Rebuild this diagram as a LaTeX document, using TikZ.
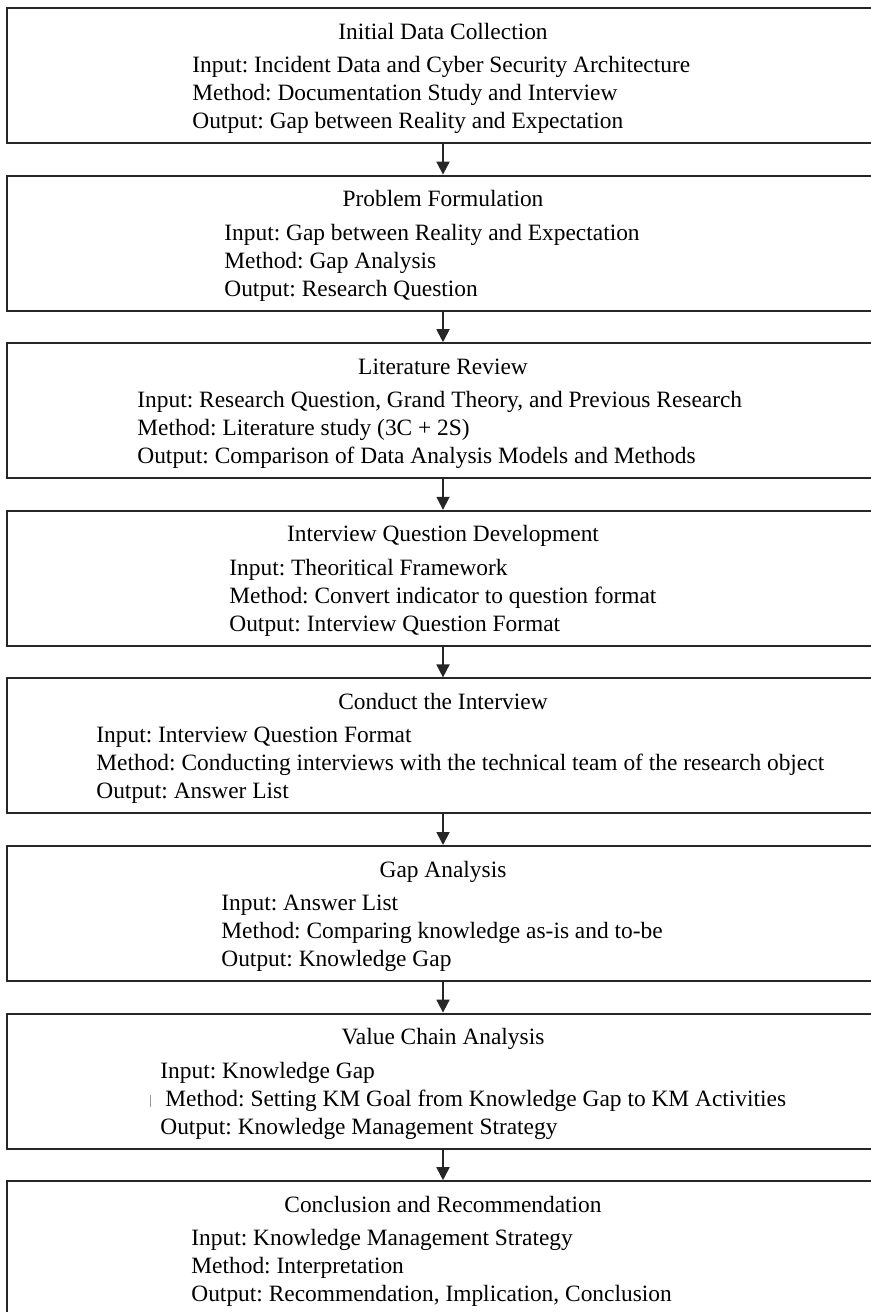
\documentclass[tikz,border=0pt]{standalone}
\usepackage{fontspec}
\setmainfont{Liberation Serif}
\usetikzlibrary{positioning, arrows.meta}
\frenchspacing

\begin{document}
\begin{tikzpicture}[
    node distance=15.3pt,
    stage/.style={draw=black!85, line width=1pt, minimum width=436pt,
      minimum height=67.5pt, inner sep=0pt},
    head/.style={anchor=base, inner sep=0pt,
      font=\fontsize{11.7}{14}\selectfont},
    info/.style={anchor=west, align=left, inner sep=0pt,
      font=\fontsize{11.7}{14}\selectfont},
    arr/.style={-{Triangle[width=6.5pt, length=6.5pt]}, line width=0.9pt,
      black!85}
  ]
  \useasboundingbox (0,0) rectangle (435.5pt,-656pt);
  \node[stage, anchor=north west] (idc) at (3pt,-3.5pt) {};
  \node[stage, below=of idc] (pf)  {};
  \node[stage, below=of pf]  (lr)  {};
  \node[stage, below=of lr]  (iqd) {};
  \node[stage, below=of iqd] (cti) {};
  \node[stage, below=of cti] (ga)  {};
  \node[stage, below=of ga]  (vca) {};
  \node[stage, below=of vca] (cr)  {};

  \node[head] (idc-t) at ([yshift=-16pt]idc.north) {Initial Data Collection};
  \node[info] (idc-d) at ([xshift=93pt, yshift=-44pt]idc.north west)
    {Input: Incident Data and Cyber Security Architecture\\
     Method: Documentation Study and Interview\\
     Output: Gap between Reality and Expectation};

  \node[head] (pf-t) at ([yshift=-16pt]pf.north) {Problem Formulation};
  \node[info] (pf-d) at ([xshift=109pt, yshift=-44pt]pf.north west)
    {Input: Gap between Reality and Expectation\\
     Method: Gap Analysis\\
     Output: Research Question};

  \node[head] (lr-t) at ([yshift=-16pt]lr.north) {Literature Review};
  \node[info] (lr-d) at ([xshift=65.5pt, yshift=-44pt]lr.north west)
    {Input: Research Question, Grand Theory, and Previous Research\\
     Method: Literature study (3C + 2S)\\
     Output: Comparison of Data Analysis Models and Methods};

  \node[head] (iqd-t) at ([yshift=-16pt]iqd.north) {Interview Question Development};
  \node[info] (iqd-d) at ([xshift=111.5pt, yshift=-44pt]iqd.north west)
    {Input: Theoritical Framework\\
     Method: Convert indicator to question format\\
     Output: Interview Question Format};

  \node[head] (cti-t) at ([yshift=-16pt]cti.north) {Conduct the Interview};
  \node[info] (cti-d) at ([xshift=45pt, yshift=-44pt]cti.north west)
    {Input: Interview Question Format\\
     Method: Conducting interviews with the technical team of the research object\\
     Output: Answer List};

  \node[head] (ga-t) at ([yshift=-16pt]ga.north) {Gap Analysis};
  \node[info] (ga-d) at ([xshift=107.5pt, yshift=-44pt]ga.north west)
    {Input: Answer List\\
     Method: Comparing knowledge as-is and to-be\\
     Output: Knowledge Gap};

  \node[head] (vca-t) at ([yshift=-16pt]vca.north) {Value Chain Analysis};
  \node[info] (vca-d) at ([xshift=77pt, yshift=-44pt]vca.north west)
    {Input: Knowledge Gap\\
     \hspace{2.5pt}Method: Setting KM Goal from Knowledge Gap to KM Activities\\
     Output: Knowledge Management Strategy};
  % small stray tick left of the method line
  \draw[black!40, line width=0.5pt] ([xshift=72pt, yshift=-41pt]vca.north west)
    -- ([xshift=72pt, yshift=-47pt]vca.north west);

  \node[head] (cr-t) at ([yshift=-16pt]cr.north) {Conclusion and Recommendation};
  \node[info] (cr-d) at ([xshift=92.5pt, yshift=-44pt]cr.north west)
    {Input: Knowledge Management Strategy\\
     Method: Interpretation\\
     Output: Recommendation, Implication, Conclusion};

  \draw[arr] (idc) -- (pf);
  \draw[arr] (pf)  -- (lr);
  \draw[arr] (lr)  -- (iqd);
  \draw[arr] (iqd) -- (cti);
  \draw[arr] (cti) -- (ga);
  \draw[arr] (ga)  -- (vca);
  \draw[arr] (vca) -- (cr);
\end{tikzpicture}
\end{document}
